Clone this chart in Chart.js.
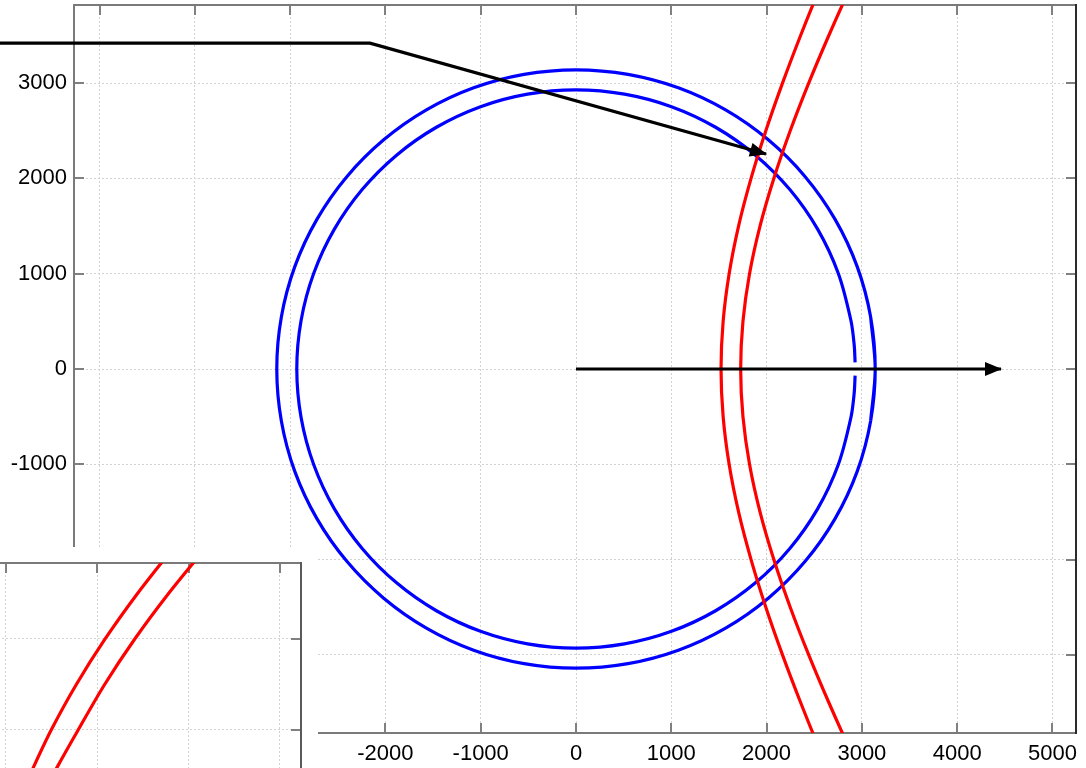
<!DOCTYPE html>
<html>
<head>
<meta charset="utf-8">
<script src="https://cdn.jsdelivr.net/npm/chart.js@4.4.0/dist/chart.umd.min.js"></script>
<style>
  html, body { margin: 0; padding: 0; background: #fff; overflow: hidden; }
  #wrap { position: relative; width: 1086px; height: 768px; overflow: hidden; }
  #wrap canvas { display: block; }
  #inset { position: absolute; left: -100px; top: 547px; width: 418px; height: 320px; background: #fff; }
</style>
</head>
<body>
<div id="wrap">
  <canvas id="main" width="1086" height="768"></canvas>
  <div id="inset"><canvas id="zoom" width="418" height="320"></canvas></div>
</div>
<script>
'use strict';

// main axes
const xTicks = [-5000, -4000, -3000, -2000, -1000, 0, 1000, 2000, 3000, 4000, 5000];
const yTicks = [-3000, -2000, -1000, 0, 1000, 2000, 3000];
const xRange = [-5268, 5247];
const yRange = [-3820, 3820];

// blue rings (outer one closes on itself, inner one has a gap at the arrow)
const outerRing = [
  [3092, -545], [3140, 0], [3092, 545], [2951, 1074], [2719, 1570], [2405, 2018], [2018, 2405], [1570, 2719], [1074, 2951], [545, 3092],
  [0, 3140], [-545, 3092], [-1074, 2951], [-1570, 2719], [-2018, 2405], [-2405, 2018], [-2719, 1570], [-2951, 1074], [-3092, 545],
  [-3140, 0], [-3092, -545], [-2951, -1074], [-2719, -1570], [-2405, -2018], [-2018, -2405], [-1570, -2719], [-1074, -2951], [-545, -3092],
  [0, -3140], [545, -3092], [1074, -2951], [1570, -2719], [2018, -2405], [2405, -2018], [2719, -1570], [2951, -1074], [3092, -545],
  [3140, 0], [3092, 545]
];
const innerRing = [
  [2929, 70], [2919, 255], [2885, 509], [2753, 1002], [2537, 1465], [2244, 1883], [1883, 2244], [1465, 2537], [1002, 2753], [509, 2885],
  [0, 2930], [-509, 2885], [-1002, 2753], [-1465, 2537], [-1883, 2244], [-2244, 1883], [-2537, 1465], [-2753, 1002], [-2885, 509],
  [-2930, 0], [-2885, -509], [-2753, -1002], [-2537, -1465], [-2244, -1883], [-1883, -2244], [-1465, -2537], [-1002, -2753], [-509, -2885],
  [0, -2930], [509, -2885], [1002, -2753], [1465, -2537], [1883, -2244], [2244, -1883], [2537, -1465], [2753, -1002], [2885, -509],
  [2919, -255], [2929, -70]
];

// red curves
const redLeft = [
  [2770, 4500], [2559, 4000], [2357, 3500], [2167, 3000], [1992, 2500], [1837, 2000], [1706, 1500], [1607, 1000], [1544, 500], [1522, 0],
  [1544, -500], [1607, -1000], [1706, -1500], [1837, -2000], [1992, -2500], [2167, -3000], [2357, -3500], [2559, -4000], [2770, -4500]
];
const redRight = [
  [3112, 4500], [2877, 4000], [2653, 3500], [2442, 3000], [2248, 2500], [2076, 2000], [1931, 1500], [1821, 1000], [1752, 500], [1728, 0],
  [1752, -500], [1821, -1000], [1931, -1500], [2076, -2000], [2248, -2500], [2442, -3000], [2653, -3500], [2877, -4000], [3112, -4500]
];

// black arrows
const arrowEast = [[0, 0], [4460, 0]];
const arrowPath = [[-6100, 3420], [-2162, 3420], [1994, 2256]];

// inset axes
const zoomXTicks = [0, 1000, 2000, 3000];
const zoomYTicks = [-1000, 0, 1000];
const zoomXRange = [-613, 3230];
const zoomYRange = [-1297, 1835];
const zoomRedLeft = [[130, -800], [305, -400], [495, 0], [770, 500], [1085, 1000], [1440, 1500], [1830, 2000]];
const zoomRedRight = [[350, -800], [565, -400], [790, 0], [1080, 500], [1410, 1000], [1780, 1500], [2185, 2000]];

const pts = arr => arr.map(p => ({ x: p[0], y: p[1] }));

Chart.defaults.font.family = "'Liberation Sans', Arial, sans-serif";
Chart.defaults.animation = false;

// box + inward tick marks
const frame = {
  id: 'frame',
  beforeDatasetsDraw(chart, args, o) {
    const { ctx, chartArea: a, scales: { x, y } } = chart;
    ctx.save();
    ctx.lineWidth = 2;
    ctx.strokeStyle = o.tickColor;
    ctx.beginPath();
    x.ticks.forEach(t => {
      const p = Math.round(x.getPixelForValue(t.value));
      ctx.moveTo(p, a.top); ctx.lineTo(p, a.top + o.len);
      ctx.moveTo(p, a.bottom); ctx.lineTo(p, a.bottom - o.len);
    });
    y.ticks.forEach(t => {
      const p = Math.round(y.getPixelForValue(t.value));
      ctx.moveTo(a.left, p); ctx.lineTo(a.left + o.len, p);
      ctx.moveTo(a.right, p); ctx.lineTo(a.right - o.len, p);
    });
    ctx.stroke();
    ctx.strokeStyle = o.color;
    ctx.beginPath();
    ctx.moveTo(a.right, a.top); ctx.lineTo(a.left, a.top);
    ctx.lineTo(a.left, a.bottom); ctx.lineTo(a.right, a.bottom);
    ctx.stroke();
    ctx.strokeStyle = o.rightColor;
    ctx.beginPath();
    ctx.moveTo(a.right, a.top - 1); ctx.lineTo(a.right, a.bottom + 1);
    ctx.stroke();
    ctx.restore();
  }
};

// filled arrow heads at the last point of flagged datasets
const arrowHeads = {
  id: 'arrowHeads',
  afterDatasetsDraw(chart) {
    const ctx = chart.ctx;
    chart.data.datasets.forEach((ds, i) => {
      if (!ds.arrowHead) return;
      const el = chart.getDatasetMeta(i).data;
      const p1 = el[el.length - 1], p0 = el[el.length - 2];
      const ang = Math.atan2(p1.y - p0.y, p1.x - p0.x);
      ctx.save();
      ctx.translate(p1.x, p1.y);
      ctx.rotate(ang);
      ctx.fillStyle = ds.borderColor;
      ctx.beginPath();
      ctx.moveTo(1, 0); ctx.lineTo(-16, -7); ctx.lineTo(-16, 7);
      ctx.closePath();
      ctx.fill();
      ctx.restore();
    });
  }
};

function line(data, color, extra) {
  return Object.assign({
    data: pts(data), showLine: true, borderColor: color, backgroundColor: color,
    borderWidth: 3.2, pointRadius: 0, pointHoverRadius: 0, fill: false
  }, extra || {});
}

const gridOpts = { color: '#d2d2d2', lineWidth: 1, drawTicks: false };
const labelFont = { size: 22 };

new Chart(document.getElementById('main'), {
  type: 'scatter',
  data: {
    datasets: [
      line(outerRing, '#0000ff', { tension: 0.33, order: 3 }),
      line(innerRing, '#0000ff', { tension: 0.33, order: 3 }),
      line(redLeft, '#ff0000', { tension: 0.3, order: 2 }),
      line(redRight, '#ff0000', { tension: 0.3, order: 2 }),
      line(arrowEast, '#000000', { order: 1, arrowHead: true }),
      line(arrowPath, '#000000', { order: 1, arrowHead: true, clip: false })
    ]
  },
  options: {
    responsive: false,
    events: [],
    layout: { padding: { top: 5, right: 10, left: 0, bottom: 0 } },
    plugins: {
      legend: { display: false },
      tooltip: { enabled: false },
      frame: { tickColor: '#808080', color: '#7a7a7a', rightColor: '#2b2b2b', len: 10 }
    },
    scales: {
      x: {
        type: 'linear', position: 'bottom', min: xRange[0], max: xRange[1],
        grid: gridOpts, border: { display: false, dash: [2, 2] },
        ticks: { color: '#000', font: labelFont, padding: 8, autoSkip: false, maxRotation: 0, callback: v => String(v) },
        afterBuildTicks: s => { s.ticks = xTicks.map(v => ({ value: v })); },
        afterFit: s => { s.height = 35; s.paddingLeft = 0; s.paddingRight = 0; }
      },
      y: {
        type: 'linear', position: 'left', min: yRange[0], max: yRange[1],
        grid: gridOpts, border: { display: false, dash: [2, 2] },
        ticks: { color: '#000', font: labelFont, padding: 7, autoSkip: false, callback: v => String(v) },
        afterBuildTicks: s => { s.ticks = yTicks.map(v => ({ value: v })); },
        afterFit: s => { s.width = 74; s.paddingTop = 0; s.paddingBottom = 0; }
      }
    }
  },
  plugins: [frame, arrowHeads]
});

new Chart(document.getElementById('zoom'), {
  type: 'scatter',
  data: {
    datasets: [
      line(zoomRedLeft, '#ff0000', { tension: 0.3 }),
      line(zoomRedRight, '#ff0000', { tension: 0.3 })
    ]
  },
  options: {
    responsive: false,
    events: [],
    layout: { padding: { top: 16, right: 17, left: 50, bottom: 19 } },
    plugins: {
      legend: { display: false },
      tooltip: { enabled: false },
      frame: { tickColor: '#808080', color: '#7a7a7a', rightColor: '#5a5a5a', len: 10 }
    },
    scales: {
      x: {
        type: 'linear', min: zoomXRange[0], max: zoomXRange[1],
        grid: gridOpts, border: { display: false, dash: [2, 2] },
        ticks: { display: false },
        afterBuildTicks: s => { s.ticks = zoomXTicks.map(v => ({ value: v })); },
        afterFit: s => { s.height = 0; s.paddingLeft = 0; s.paddingRight = 0; }
      },
      y: {
        type: 'linear', min: zoomYRange[0], max: zoomYRange[1],
        grid: gridOpts, border: { display: false, dash: [2, 2] },
        ticks: { display: false },
        afterBuildTicks: s => { s.ticks = zoomYTicks.map(v => ({ value: v })); },
        afterFit: s => { s.width = 0; s.paddingTop = 0; s.paddingBottom = 0; }
      }
    }
  },
  plugins: [frame]
});
</script>
</body>
</html>
